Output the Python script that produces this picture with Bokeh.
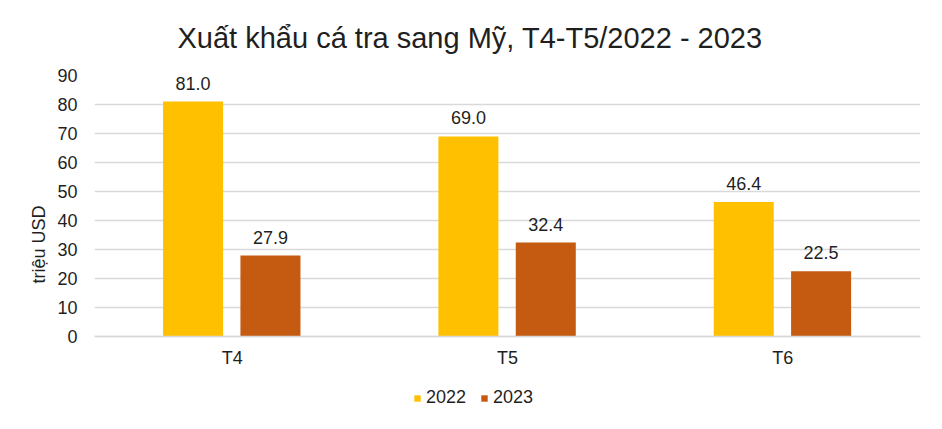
from bokeh.plotting import figure
from bokeh.models import ColumnDataSource, Range1d, FactorRange, Legend, LegendItem, FixedTicker
from bokeh.transform import dodge
from bokeh.core.properties import value
from bokeh.embed import file_html
from bokeh.resources import INLINE

months = ["T4", "T5", "T6"]
y2022 = [81.0, 69.0, 46.4]
y2023 = [27.9, 32.4, 22.5]
series = ["2022", "2023"]
yticks = [0, 10, 20, 30, 40, 50, 60, 70, 80, 90]
colors = ["#FFC000", "#C55A11"]
title_text = "Xuất khẩu cá tra sang Mỹ, T4-T5/2022 - 2023"
ylabel = "triệu USD"

FONT = "Liberation Sans"
TXT = "#1f1f1f"
FS = "18px"

PX_PER_UNIT = 261 / 90          # vertical scale of the plot area
BELOW_PX = 77                   # room under the zero line for labels + legend
FRAME_H = 261 + BELOW_PX

src = ColumnDataSource(dict(
    m=months, a=y2022, b=y2023,
    la=[f"{v:.1f}" for v in y2022], lb=[f"{v:.1f}" for v in y2023],
))

p = figure(x_range=FactorRange(*months),
           y_range=Range1d(-BELOW_PX / PX_PER_UNIT, yticks[-1]),
           frame_width=826, frame_height=FRAME_H, output_backend="svg", toolbar_location=None,
           min_border_left=94, min_border_right=6, min_border_top=75, min_border_bottom=0)

p.title.text = title_text
p.title.align = "left"
p.title.vertical_align = "top"
p.title.offset = 83
p.title.text_font = FONT
p.title.text_font_size = "29px"
p.title.text_font_style = "normal"
p.title.text_color = TXT
p.title.standoff = 40

r1 = p.vbar(x=dodge("m", -0.142, range=p.x_range), top="a", width=0.218, source=src,
            fill_color=colors[0], line_color=None)
r2 = p.vbar(x=dodge("m", 0.139, range=p.x_range), top="b", width=0.218, source=src,
            fill_color=colors[1], line_color=None)

for off, col, lab in [(-0.142, "a", "la"), (0.139, "b", "lb")]:
    p.text(x=dodge("m", off, range=p.x_range), y=col, text=lab, source=src,
           text_align="center", text_baseline="bottom", y_offset=-12,
           text_font=value(FONT), text_font_size=FS, text_color=TXT)

p.xgrid.grid_line_color = None
p.ygrid.grid_line_color = "#D9D9D9"
p.ygrid.grid_line_width = 1.3
p.outline_line_color = None

p.yaxis.ticker = FixedTicker(ticks=yticks)
p.yaxis.axis_line_color = None
p.yaxis.major_tick_line_color = None
p.yaxis.minor_tick_line_color = None
p.yaxis.major_label_standoff = 11
p.yaxis.major_label_text_font = FONT
p.yaxis.major_label_text_font_size = FS
p.yaxis.major_label_text_color = TXT
p.yaxis.axis_label = ylabel
p.yaxis.axis_label_text_font = FONT
p.yaxis.axis_label_text_font_size = FS
p.yaxis.axis_label_text_font_style = "normal"
p.yaxis.axis_label_text_color = TXT
p.yaxis.axis_label_standoff = 5

p.xaxis.fixed_location = 0
p.xaxis.axis_line_color = "#D9D9D9"
p.xaxis.axis_line_width = 1.3
p.xaxis.major_tick_line_color = None
p.xaxis.minor_tick_line_color = None
p.xaxis.major_label_standoff = 5
p.xaxis.major_label_text_font = FONT
p.xaxis.major_label_text_font_size = FS
p.xaxis.major_label_text_color = TXT

legend = Legend(items=[LegendItem(label=series[0], renderers=[r1]),
                       LegendItem(label=series[1], renderers=[r2])],
                orientation="horizontal", location=(319, 5),
                border_line_color=None, background_fill_alpha=0,
                glyph_width=8, glyph_height=8, label_standoff=5, spacing=14,
                label_text_font=FONT, label_text_font_size=FS, label_text_color=TXT,
                padding=0, margin=0)
p.add_layout(legend)

open("out.html", "w").write(file_html(p, INLINE))
